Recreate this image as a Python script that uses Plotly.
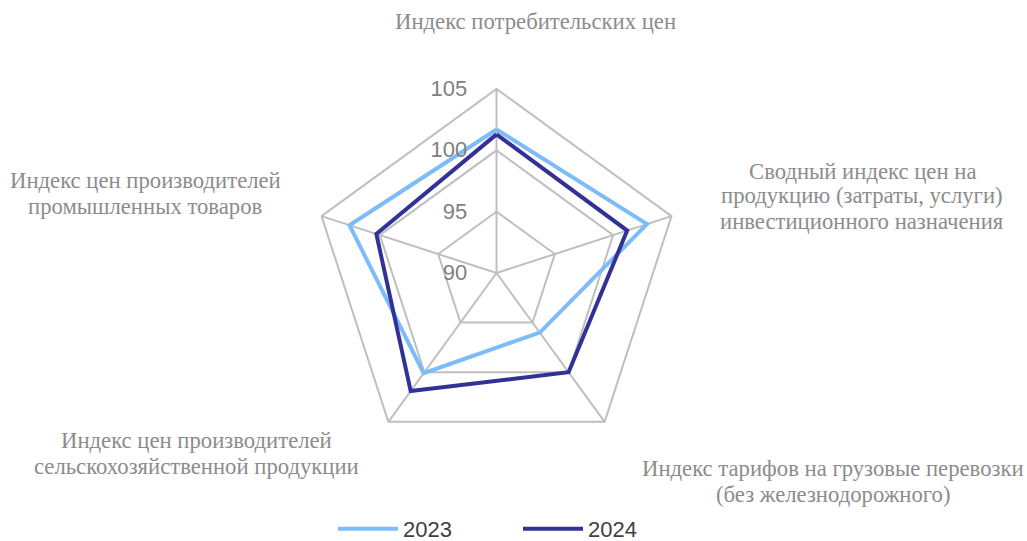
import plotly.graph_objects as go

categories = [
    "Индекс потребительских цен",
    "Сводный индекс цен на продукцию (затраты, услуги) инвестиционного назначения",
    "Индекс тарифов на грузовые перевозки (без железнодорожного)",
    "Индекс цен производителей сельскохозяйственной продукции",
    "Индекс цен производителей промышленных товаров",
]
label_lines = [
    ["Индекс потребительских цен"],
    ["Сводный индекс цен на", "продукцию (затраты, услуги)", "инвестиционного назначения"],
    ["Индекс тарифов на грузовые перевозки", "(без железнодорожного)"],
    ["Индекс цен производителей", "сельскохозяйственной продукции"],
    ["Индекс цен производителей", "промышленных товаров"],
]
values_2023 = [101.7, 102.9, 96.0, 100.1, 102.6]
values_2024 = [101.3, 101.2, 100.0, 101.9, 100.3]
radial_ticks = [90, 95, 100, 105]

W, H = 1027, 541
cx, cy, R = 496.5, 273, 184


def px(x):
    return x / W


def py(y):
    return 1 - y / H


fig = go.Figure()
fig.add_trace(go.Scatterpolar(
    r=values_2023 + values_2023[:1], theta=categories + categories[:1],
    mode="lines", name="2023", line=dict(color="#7DBCFA", width=4)))
fig.add_trace(go.Scatterpolar(
    r=values_2024 + values_2024[:1], theta=categories + categories[:1],
    mode="lines", name="2024", line=dict(color="#313196", width=4)))

fig.update_layout(
    width=W, height=H,
    margin=dict(l=0, r=0, t=0, b=0, autoexpand=False),
    paper_bgcolor="white",
    font=dict(family="Liberation Sans, Arial, sans-serif"),
    polar=dict(
        domain=dict(x=[(cx - R) / W, (cx + R) / W], y=[1 - (cy + R) / H, 1 - (cy - R) / H]),
        bgcolor="white",
        gridshape="linear",
        radialaxis=dict(range=[90, 105], tickvals=radial_ticks, showline=False,
                        gridcolor="#BFBFBF", gridwidth=2, angle=90, tickangle=90,
                        side="counterclockwise", ticks="outside", ticklen=21,
                        tickcolor="rgba(0,0,0,0)",
                        tickfont=dict(size=22, color="#808080")),
        angularaxis=dict(direction="clockwise", rotation=90, showticklabels=False,
                         ticks="", gridcolor="#BFBFBF", gridwidth=2,
                         linecolor="#BFBFBF", linewidth=2),
    ),
    showlegend=True,
    legend=dict(orientation="h", x=px(338 - 5), xanchor="left", y=py(529), yanchor="middle",
                font=dict(size=22, color="#404040"), itemwidth=60,
                entrywidth=110, entrywidthmode="pixels",
                traceorder="normal"),
)

label_pos = [(535, [22]), (862, [171, 196, 221]), (833, [468, 494]),
             (196, [440, 466]), (145, [180, 207])]
for lines, (x, ys) in zip(label_lines, label_pos):
    for txt, y in zip(lines, ys):
        fig.add_annotation(text=txt, x=px(x), y=py(y), xref="paper", yref="paper",
                           showarrow=False, xanchor="center", yanchor="middle",
                           font=dict(family="Liberation Serif, Times New Roman, serif",
                                     size=22.7, color="#8C8C8C"))

fig.write_html(
    "out.html",
    config={"displayModeBar": False},
    post_script="document.body.style.margin='0';document.body.style.padding='0';"
                "document.documentElement.style.overflow='hidden';",
)
